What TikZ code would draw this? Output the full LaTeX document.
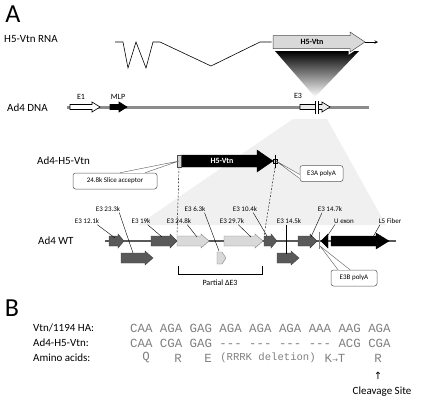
\documentclass[tikz,border=0pt]{standalone}
\usepackage{fontspec}
\setmainfont{Carlito}
\newfontfamily\seqfont{Liberation Mono}
\newfontfamily\symfont{DejaVu Sans}
\usetikzlibrary{calc}
\definecolor{dkg}{HTML}{595959}
\definecolor{ltg}{HTML}{D9D9D9}
\definecolor{lng}{HTML}{8C8C8C}
\definecolor{shd}{HTML}{F0F0F0}
% block arrow: [style]{x1}{x2}{y}{half body}{half head}{head length}
\newcommand\blkarr[7][]{\path[#1] (#2,{#4-#5}) -- ({#3-#7},{#4-#5}) -- ({#3-#7},{#4-#6}) -- (#3,#4) -- ({#3-#7},{#4+#6}) -- ({#3-#7},{#4+#5}) -- (#2,{#4+#5}) -- cycle;}
\begin{document}
\begin{tikzpicture}[x=1pt,y=-1pt,
  lab/.style={font=\fontsize{11}{13}\selectfont, inner sep=0, anchor=west},
  sm/.style={font=\fontsize{7}{8}\selectfont, inner sep=0},
  big/.style={font=\fontsize{26}{28}\selectfont, inner sep=0},
  seq/.style={font=\seqfont\fontsize{12.4}{14}\selectfont, text=gray, inner sep=0, anchor=west},
  aa/.style={font=\seqfont\fontsize{12.4}{14}\selectfont, text=gray, inner sep=0},
  dk/.style={fill=dkg, draw=dkg!70!black, line width=0.4pt},
  lt/.style={fill=ltg, draw=gray, line width=0.4pt},
  leader/.style={line width=0.4pt, draw=black},
  callout/.style={draw=gray!70!black, fill=white, rounded corners=2.5pt, line width=0.5pt,
     font=\fontsize{7}{8}\selectfont, minimum height=16pt, inner sep=2pt},
  wedge/.style={draw=gray!70!black, fill=white, line width=0.4pt, line join=round}]
\useasboundingbox (0,0) rectangle (430,400);

% ---------------- Panel A ----------------
\node[big] (A) at (13,14) {A};

% RNA
\node[lab] (rnalab) at (4,39) {H5-Vtn RNA};
\shade[top color=black, bottom color=white] (275,51) -- (359,51) -- (315,97) -- cycle;
\draw[line width=0.6pt] (115,42) -- (123,42) -- (128,68) -- (136,42) -- (146,68) -- (153,42) -- (160,42) -- (211,66) -- (260,42) -- (273,42);
\blkarr[draw=white, line width=3pt]{273}{365}{42}{6.5}{10}{15}
\blkarr[fill=ltg, draw=gray!60!black, line width=0.5pt]{273}{365}{42}{6.5}{10}{15}
\node[font=\bfseries\fontsize{8}{9}\selectfont, inner sep=0] (rnavtn) at (312,42) {H5-Vtn};
\coordinate (rnaend) at (378,42);
\draw[-stealth, line width=0.6pt] (365,42) -- (rnaend);

% Ad4 DNA
\node[lab] (dnalab) at (7,108) {Ad4 DNA};
\fill[shd] (293,119) -- (327,119) -- (386,225) -- (138,225) -- cycle;
\draw[line width=3pt, lng] (67,107) -- (369,107);
\blkarr[fill=white, draw=black, line width=0.6pt]{70}{100}{107}{2.5}{5}{8}
\blkarr[fill=black, draw=black, line width=0.6pt]{110}{127}{107}{2.5}{5}{8}
\blkarr[fill=gray!15, draw=black, line width=0.6pt]{300}{330}{107}{2.5}{5}{8}
\fill[white] (315,103) rectangle (318,111);
\draw[line width=0.5pt] (315,101) -- (315,114) (318,101) -- (318,114);
\node[sm, font=\fontsize{8}{9}\selectfont] (e1) at (81,97) {E1};
\node[sm, font=\fontsize{8}{9}\selectfont] (mlp) at (118,97) {MLP};
\node[sm, font=\fontsize{8}{9}\selectfont] (e3) at (298,96) {E3};

% Ad4-H5-Vtn
\node[lab] (vtnlab) at (37,161) {Ad4-H5-Vtn};
\blkarr[fill=black, draw=black]{181}{273}{161}{6}{11}{16}
\node[font=\bfseries\fontsize{8}{9}\selectfont, text=white, inner sep=0] (vtnt) at (222,161) {H5-Vtn};
\draw[fill=gray!35, draw=gray!60!black, line width=0.4pt] (177.5,155) rectangle (181.5,167);
\coordinate (sa) at (179,161);
\draw[fill=gray!40, draw=black, line width=0.3pt] (273.5,159) rectangle (277.5,163);
\draw[line width=0.5pt] (275,154.5) -- (275,167.5);
\coordinate (pa) at (276,161);
\node[callout, minimum width=84pt] (sacall) at (115,181) {24.8k Slice acceptor};
\draw[wedge] ([xshift=5pt]sacall.north) -- (sa) -- ([xshift=30pt]sacall.north);
\node[callout, minimum width=43pt] (pacall) at (321.5,173.5) {E3A polyA};
\draw[wedge] ([yshift=-5pt]pacall.west) -- (pa) -- ([yshift=-1pt]pacall.west);
\coordinate (d1a) at (179,167.5); \coordinate (d1b) at (177,235);
\coordinate (d2a) at (275,167.5); \coordinate (d2b) at (264,236);
\draw[line width=0.4pt, dash pattern=on 2pt off 1.5pt] (d1a) -- (d1b);
\draw[line width=0.4pt, dash pattern=on 2pt off 1.5pt] (d2a) -- (d2b);

% Ad4 WT
\node[lab] (wtlab) at (38,241) {Ad4 WT};
\draw[line width=2pt, dkg] (105,241) -- (396,241);
\blkarr[dk]{109}{124}{241}{5}{7}{6}
\blkarr[dk]{151}{177}{241}{5}{7}{7}
\blkarr[lt]{177}{209}{241}{5}{7}{8}
\blkarr[lt]{224}{263}{241}{5}{7}{8}
\blkarr[dk]{264}{277}{241}{5}{7}{6}
\blkarr[dk]{298}{317}{241}{5}{7}{7}
\draw[fill=black] (321,241) -- (328,234) -- (328,248) -- cycle;
\blkarr[fill=black, draw=black]{331}{389}{241}{5}{8}{13}
\blkarr[dk]{121}{153}{258}{5}{7}{8}
\draw[lt] (217,252) -- (222,252) -- (226,258) -- (222,264) -- (217,264) -- cycle;
\blkarr[dk]{277}{299}{258}{5}{7}{8}
\draw[line width=0.4pt, gray] (319,232) -- (319,249);
\coordinate (pb) at (320,246);

% WT labels
\node[sm] (l121) at (87,221) {E3 12.1k};
\node[sm] (l233) at (108,209) {E3 23.3k};
\node[sm] (l19)  at (141,221) {E3 19k};
\node[sm] (l248) at (179,221) {E3 24.8k};
\node[sm] (l63)  at (195,209) {E3 6.3k};
\node[sm] (l297) at (232,221) {E3 29.7k};
\node[sm] (l104) at (245,209) {E3 10.4k};
\node[sm] (l145) at (289,221) {E3 14.5k};
\node[sm] (l147) at (330,209) {E3 14.7k};
\node[sm] (lu)   at (344,221) {U exon};
\node[sm] (l5)   at (390,221) {L5 Fiber};
\coordinate (t121) at (115,238);
\coordinate (t233) at (133,253);
\coordinate (t19)  at (162,237);
\coordinate (t248) at (197,237);
\coordinate (t63)  at (219,251);
\coordinate (t297) at (251,237);
\coordinate (t104) at (267,236);
\coordinate (t145) at (286,254);
\coordinate (t147) at (311,237);
\coordinate (tu)   at (326,238);
\coordinate (t5)   at (373,237);
\draw[leader] ([xshift=-2pt,yshift=-1pt]l121.south east) -- (t121);
\draw[leader] ([xshift=-1pt,yshift=-1pt]l233.south east) -- (t233);
\draw[leader] ([xshift=-3pt,yshift=-1pt]l19.south east) -- (t19);
\draw[leader] ([xshift=-4pt,yshift=-1pt]l248.south east) -- (t248);
\draw[leader] ([xshift=-1pt,yshift=-1pt]l63.south east) -- (t63);
\draw[leader] ([xshift=-6pt,yshift=-1pt]l297.south east) -- (t297);
\draw[leader] ([xshift=-4pt,yshift=-1pt]l104.south east) -- (t104);
\draw[leader] ([xshift=-3pt,yshift=-1pt]l145.south) -- (t145);
\draw[leader] ([xshift=-8pt,yshift=-1pt]l147.south) -- (t147);
\draw[leader] ([xshift=-9pt,yshift=-1pt]lu.south) -- (tu);
\draw[leader] ([xshift=-10pt,yshift=-1pt]l5.south) -- (t5);

% bracket
\draw[line width=0.5pt] (178,266) -- (178,274) -- (262,274) -- (262,266);
\node[sm, font=\fontsize{8}{9}\selectfont] (pe3) at (220,283) {Partial ΔE3};

% E3B polyA
\node[callout, minimum width=46pt] (pbcall) at (354,278) {E3B polyA};
\draw[wedge] ([xshift=-16pt]pbcall.north) -- (pb) -- ([xshift=-4pt]pbcall.north);

% ---------------- Panel B ----------------
\node[big] (B) at (12,308) {B};
\node[lab] (r1) at (33,328) {Vtn/1194 HA:};
\node[lab] (r2) at (33,343) {Ad4-H5-Vtn:};
\node[lab] (r3) at (33,358) {Amino acids:};
\node[seq] (s1) at (130,328) {CAA AGA GAG AGA AGA AGA AAA AAG AGA};
\node[seq] (s2) at (130,343) {CAA CGA GAG --- --- --- --- ACG CGA};
\node[aa] (q)  at (146,358) {Q};
\node[aa] (r)  at (178,358) {R};
\node[aa] (e)  at (208,358) {E};
\node[aa, font=\seqfont\fontsize{10.6}{12}\selectfont] (del) at (268,358) {(RRRK deletion)};
\node[aa] (kt) at (335,358) {K{\symfont\fontsize{7}{8}\selectfont →}T};
\node[aa] (r9) at (378,358) {R};
\node[inner sep=0, font=\symfont\fontsize{10}{12}\selectfont] (up) at (378,376) {↑};
\node[lab, anchor=center] (cs) at (382,392) {Cleavage Site};
\end{tikzpicture}
\end{document}
